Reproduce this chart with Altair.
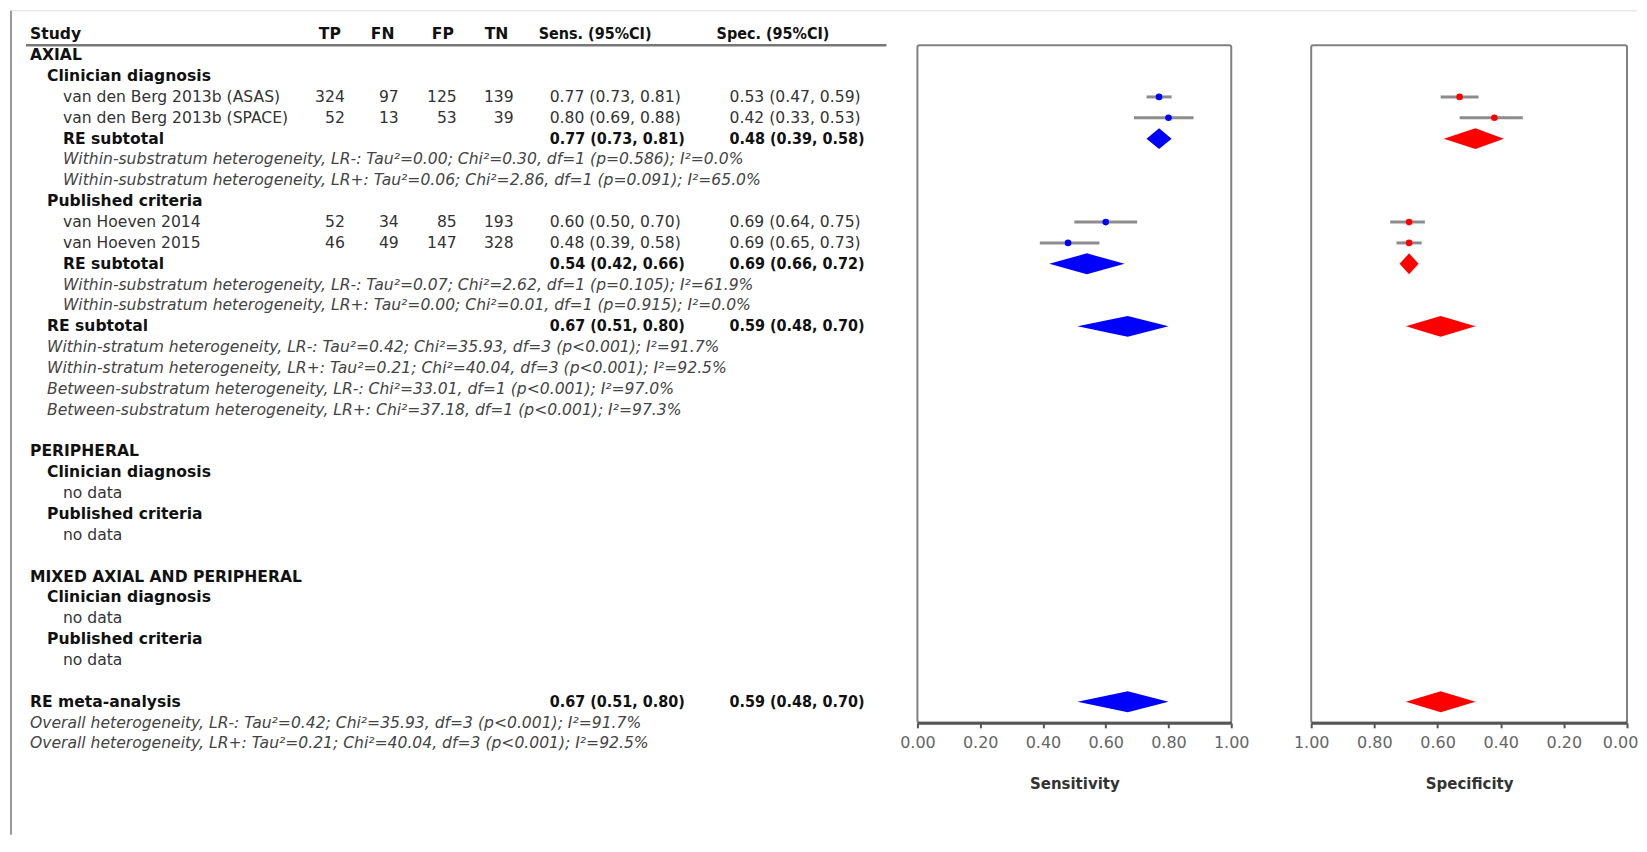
import altair as alt
import pandas as pd

# ---------------- data ----------------
study_names = ["van den Berg 2013b (ASAS)", "van den Berg 2013b (SPACE)",
               "van Hoeven 2014", "van Hoeven 2015"]
study_rows = [2, 3, 8, 9]
tp = [324, 52, 52, 46]
fn = [97, 13, 34, 49]
fp = [125, 53, 85, 147]
tn = [139, 39, 193, 328]
sens = [0.77, 0.80, 0.60, 0.48]
sens_lo = [0.73, 0.69, 0.50, 0.39]
sens_hi = [0.81, 0.88, 0.70, 0.58]
spec = [0.53, 0.42, 0.69, 0.69]
spec_lo = [0.47, 0.33, 0.64, 0.65]
spec_hi = [0.59, 0.53, 0.75, 0.73]

pooled_labels = ["RE subtotal", "RE subtotal", "RE subtotal", "RE meta-analysis"]
pooled_rows = [4, 10, 13, 31]
pooled_levels = [2, 2, 1, 0]
pooled_sens = [0.77, 0.54, 0.67, 0.67]
pooled_sens_lo = [0.73, 0.42, 0.51, 0.51]
pooled_sens_hi = [0.81, 0.66, 0.80, 0.80]
pooled_spec = [0.48, 0.69, 0.59, 0.59]
pooled_spec_lo = [0.39, 0.66, 0.48, 0.48]
pooled_spec_hi = [0.58, 0.72, 0.70, 0.70]

heading_texts = ["AXIAL", "Clinician diagnosis", "Published criteria",
                 "PERIPHERAL", "Clinician diagnosis", "Published criteria",
                 "MIXED AXIAL AND PERIPHERAL", "Clinician diagnosis", "Published criteria"]
heading_rows = [0, 1, 7, 19, 20, 22, 25, 26, 28]
heading_levels = [0, 1, 1, 0, 1, 1, 0, 1, 1]

nodata_rows = [21, 23, 27, 29]

het_texts = [
    "Within-substratum heterogeneity, LR-: Tau²=0.00; Chi²=0.30, df=1 (p=0.586); I²=0.0%",
    "Within-substratum heterogeneity, LR+: Tau²=0.06; Chi²=2.86, df=1 (p=0.091); I²=65.0%",
    "Within-substratum heterogeneity, LR-: Tau²=0.07; Chi²=2.62, df=1 (p=0.105); I²=61.9%",
    "Within-substratum heterogeneity, LR+: Tau²=0.00; Chi²=0.01, df=1 (p=0.915); I²=0.0%",
    "Within-stratum heterogeneity, LR-: Tau²=0.42; Chi²=35.93, df=3 (p<0.001); I²=91.7%",
    "Within-stratum heterogeneity, LR+: Tau²=0.21; Chi²=40.04, df=3 (p<0.001); I²=92.5%",
    "Between-substratum heterogeneity, LR-: Chi²=33.01, df=1 (p<0.001); I²=97.0%",
    "Between-substratum heterogeneity, LR+: Chi²=37.18, df=1 (p<0.001); I²=97.3%",
    "Overall heterogeneity, LR-: Tau²=0.42; Chi²=35.93, df=3 (p<0.001); I²=91.7%",
    "Overall heterogeneity, LR+: Tau²=0.21; Chi²=40.04, df=3 (p<0.001); I²=92.5%",
]
het_rows = [5, 6, 11, 12, 14, 15, 16, 17, 32, 33]
het_levels = [2, 2, 2, 2, 1, 1, 1, 1, 0, 0]

header_labels = ["Study", "TP", "FN", "FP", "TN", "Sens. (95%CI)", "Spec. (95%CI)"]
ticks = [0, 0.2, 0.4, 0.6, 0.8, 1.0]

# ---------------- layout / style ----------------
FONT = "DejaVu Sans"
FONT_C = "'DejaVu Sans Condensed', 'DejaVu Sans'"
FS = 15.6
TABLE_W = 828
PANEL_H = 678
LEVEL_X = {0: 20, 1: 37, 2: 53}
HEADER_X = [20, 309, 361, 422, 475, 529, 707]
TP_X, FN_X, FP_X, TN_X = 335, 389, 447, 504
SENS_X, SPEC_X = 540, 720
H = 0.5  # diamond half-height in rows

yscale = alt.Scale(domain=[-0.479, 32.01], reverse=True, nice=False, zero=False)
Y = alt.Y("row:Q", scale=yscale, axis=None)


def ci_text(e, l, h):
    return f"{e:.2f} ({l:.2f}, {h:.2f})"


def txt(df, field, x, align="left", weight="normal", style="normal", color="#333",
        font=FONT, size=FS):
    return alt.Chart(df).mark_text(
        align=align, baseline="middle", font=font, fontSize=size,
        fontWeight=weight, fontStyle=style, color=color
    ).encode(x=alt.value(x), y=Y, text=f"{field}:N")


studies = pd.DataFrame({
    "row": study_rows, "name": study_names,
    "tp": [str(v) for v in tp], "fn": [str(v) for v in fn],
    "fp": [str(v) for v in fp], "tn": [str(v) for v in tn],
    "sens": [ci_text(*v) for v in zip(sens, sens_lo, sens_hi)],
    "spec": [ci_text(*v) for v in zip(spec, spec_lo, spec_hi)],
})
pooled = pd.DataFrame({
    "row": pooled_rows, "name": pooled_labels, "level": pooled_levels,
    "sens": [ci_text(*v) for v in zip(pooled_sens, pooled_sens_lo, pooled_sens_hi)],
    "spec": [ci_text(*v) for v in zip(pooled_spec, pooled_spec_lo, pooled_spec_hi)],
})
headings = pd.DataFrame({"row": heading_rows, "name": heading_texts, "level": heading_levels})
nodata = pd.DataFrame({"row": nodata_rows, "name": ["no data"] * len(nodata_rows)})
het = pd.DataFrame({"row": het_rows, "name": het_texts, "level": het_levels})

layers = []
# frame lines of the page
one = pd.DataFrame({"k": [0]})
layers.append(alt.Chart(one).mark_rule(color="#dddddd", strokeWidth=1).encode(
    x=alt.value(0), x2=alt.value(1628), y=alt.value(-34.5)))
layers.append(alt.Chart(one).mark_rule(color="#9a9a9a", strokeWidth=2).encode(
    x=alt.value(1), y=alt.value(-34.5), y2=alt.value(790)))
# header
for i, (lab, hx) in enumerate(zip(header_labels, HEADER_X)):
    layers.append(txt(pd.DataFrame({"row": [-1], "name": [lab]}), "name", hx,
                      weight="bold", color="#111",
                      font=FONT_C if i >= 5 else FONT, size=16 if i >= 5 else FS))
layers.append(alt.Chart(one).mark_rule(color="#777777", strokeWidth=2.5).encode(
    x=alt.value(16), x2=alt.value(877), y=alt.value(0)))
# headings
for lvl in (0, 1):
    layers.append(txt(headings[headings.level == lvl], "name", LEVEL_X[lvl],
                      weight="bold", color="#111"))
# studies
layers.append(txt(studies, "name", LEVEL_X[2]))
layers.append(txt(studies, "tp", TP_X, align="right"))
layers.append(txt(studies, "fn", FN_X, align="right"))
layers.append(txt(studies, "fp", FP_X, align="right"))
layers.append(txt(studies, "tn", TN_X, align="right"))
layers.append(txt(studies, "sens", SENS_X))
layers.append(txt(studies, "spec", SPEC_X))
# pooled
for lvl in (0, 1, 2):
    sub = pooled[pooled.level == lvl]
    layers.append(txt(sub, "name", LEVEL_X[lvl], weight="bold", color="#111"))
layers.append(txt(pooled, "sens", SENS_X, weight="bold", color="#111", font=FONT_C, size=16))
layers.append(txt(pooled, "spec", SPEC_X, weight="bold", color="#111", font=FONT_C, size=16))
# no data
layers.append(txt(nodata, "name", LEVEL_X[2]))
# heterogeneity
for lvl in (0, 1, 2):
    layers.append(txt(het[het.level == lvl], "name", LEVEL_X[lvl],
                      style="italic", color="#444"))

table = alt.layer(*layers).properties(
    width=TABLE_W, height=PANEL_H, view=alt.ViewBackground(stroke="transparent"))


def panel(est, lo, hi, p_est, p_lo, p_hi, color, title, reverse, label_offset):
    axis = alt.Axis(values=ticks, format=".2f", title=title, grid=False,
                    labelFlush=False, labelOverlap=False, labelFont=FONT,
                    labelFontSize=16, labelColor="#666", labelPadding=7,
                    labelOffset=label_offset,
                    tickSize=5, tickWidth=2, tickColor="#555",
                    domainColor="#555", domainWidth=3,
                    titleFont=FONT, titleFontSize=15, titleFontWeight="bold",
                    titleColor="#333", titlePadding=26)
    xs = alt.Scale(domain=[0, 1], reverse=reverse, nice=False, zero=False)
    sd = pd.DataFrame({"row": study_rows, "est": est, "lo": lo, "hi": hi})
    ci = alt.Chart(sd).mark_rule(color="#8c8c8c", strokeWidth=3).encode(
        x=alt.X("lo:Q", scale=xs, axis=axis), x2="hi:Q", y=Y)
    pts = alt.Chart(sd).mark_circle(color=color, size=44, opacity=1).encode(
        x=alt.X("est:Q", scale=xs, axis=axis), y=Y)
    drows = []
    for r, e, l, h in zip(pooled_rows, p_est, p_lo, p_hi):
        drows += [{"row": r, "x": l, "y": r, "y2": r},
                  {"row": r, "x": e, "y": r - H, "y2": r + H},
                  {"row": r, "x": h, "y": r, "y2": r}]
    dd = pd.DataFrame(drows)
    dia = alt.Chart(dd).mark_area(color=color, orient="vertical", opacity=1).encode(
        x=alt.X("x:Q", scale=xs, axis=axis),
        y=alt.Y("y:Q", scale=yscale, axis=None), y2="y2:Q", detail="row:N")
    return alt.layer(ci, pts, dia)


sens_panel = panel(sens, sens_lo, sens_hi, pooled_sens, pooled_sens_lo, pooled_sens_hi,
                   "#0000ff", "Sensitivity", False, 0).properties(width=314, height=PANEL_H)
spec_panel = panel(spec, spec_lo, spec_hi, pooled_spec, pooled_spec_lo, pooled_spec_hi,
                   "#ff0000", "Specificity", True,
                   {"condition": {"test": "datum.value == 0", "value": -7}, "value": 0}
                   ).properties(width=316, height=PANEL_H)

chart = alt.hconcat(table, sens_panel, spec_panel, spacing=80, bounds="flush").properties(
    padding=0
).configure_view(stroke="#808080", strokeWidth=2, cornerRadius=2)

chart.save("out.html", embed_options={"renderer": "svg", "actions": False})
